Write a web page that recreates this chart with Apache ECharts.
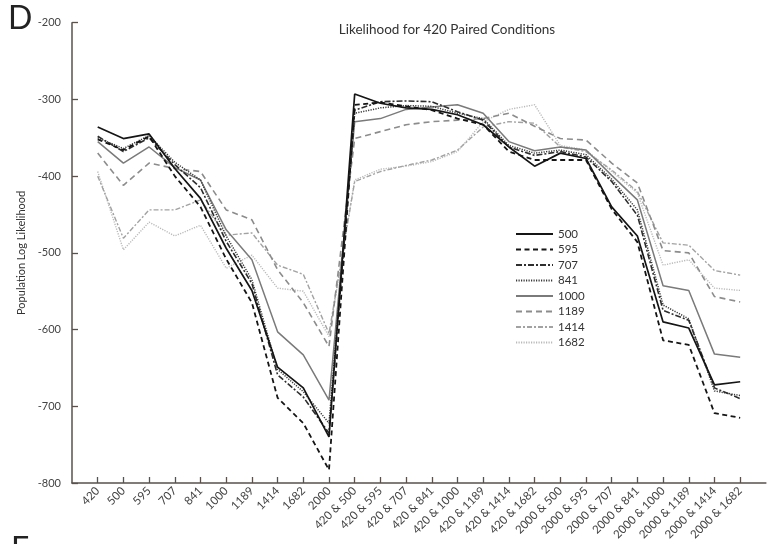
<!DOCTYPE html>
<html>
<head>
<meta charset="utf-8">
<script src="https://cdn.jsdelivr.net/npm/echarts@6/dist/echarts.min.js"></script>
<style>
html,body{margin:0;padding:0;background:#fff;}
#chart{width:768px;height:544px;}
</style>
</head>
<body>
<div id="chart"></div>
<script>
const categories = ['420','500','595','707','841','1000','1189','1414','1682','2000',
  '420 & 500','420 & 595','420 & 707','420 & 841','420 & 1000','420 & 1189','420 & 1414','420 & 1682',
  '2000 & 500','2000 & 595','2000 & 707','2000 & 841','2000 & 1000','2000 & 1189','2000 & 1414','2000 & 1682'];
const seriesNames = ['500','595','707','841','1000','1189','1414','1682'];
const s500  = [-336,-351,-345,-390,-429,-494,-549,-649,-676,-740, -293,-305,-311,-313,-320,-333,-362,-387, -370,-377,-440,-478,-590,-598,-672,-668];
const s595  = [-352,-366,-348,-400,-440,-508,-565,-689,-722,-783, -307,-304,-309,-314,-325,-333,-368,-379, -379,-379,-443,-486,-614,-620,-709,-715];
const s707  = [-348,-368,-350,-385,-415,-485,-540,-659,-688,-735, -314,-303,-302,-303,-316,-327,-362,-373, -368,-375,-407,-451,-575,-588,-676,-690];
const s841  = [-350,-364,-347,-382,-405,-478,-535,-652,-681,-722, -318,-311,-308,-309,-318,-325,-360,-370, -366,-372,-404,-444,-568,-586,-680,-686];
const s1000 = [-355,-383,-362,-389,-405,-470,-509,-603,-633,-692, -329,-325,-313,-310,-307,-318,-355,-367, -362,-366,-399,-431,-543,-549,-632,-636];
const s1189 = [-370,-412,-383,-390,-394,-444,-457,-522,-565,-622, -351,-342,-333,-329,-327,-325,-318,-335, -351,-353,-383,-409,-497,-500,-557,-564];
const s1414 = [-400,-481,-444,-444,-431,-477,-474,-516,-528,-605, -407,-394,-386,-379,-366,-336,-329,-331, -362,-368,-392,-420,-487,-490,-523,-529];
const s1682 = [-394,-496,-460,-478,-464,-520,-503,-546,-550,-609, -405,-391,-387,-381,-368,-329,-313,-307, -360,-366,-394,-422,-516,-509,-546,-549];
const yTicks = {min: -800, max: -200, interval: 100};

const values = [s500, s595, s707, s841, s1000, s1189, s1414, s1682];
const styles = [
  {color:'#151515', width:1.7, type:'solid'},
  {color:'#151515', width:1.8, type:[5,3.5]},
  {color:'#2e2e2e', width:1.6, type:[6,2,2,2]},
  {color:'#3a3a3a', width:1.5, type:[1.2,1.3]},
  {color:'#7a7a7a', width:1.5, type:'solid'},
  {color:'#8c8c8c', width:1.6, type:[6,4]},
  {color:'#a2a2a2', width:1.4, type:[5,2,2,2]},
  {color:'#bababa', width:1.4, type:[1.2,1.3]}
];
const xData = [''].concat(categories, ['']);
const chart = echarts.init(document.getElementById('chart'), null, {renderer:'canvas'});
const FONT = 'Lato';
chart.setOption({
  animation: false,
  backgroundColor: '#fff',
  textStyle: {fontFamily: FONT},
  title: {
    text: 'Likelihood for 420 Paired Conditions',
    left: 442, top: 18, textAlign: 'center',
    textStyle: {fontFamily: FONT, fontSize: 13.5, fontWeight: 'normal', color: '#333'}
  },
  graphic: [
    {type:'text', left: 8, top: 3, style:{text:'D', font:'32px Lato', fill:'#222'}},
    {type:'text', left: 11, top: 534, style:{text:'E', font:'32px Lato', fill:'#222'}}
  ],
  legend: {
    orient: 'vertical', left: 510, top: 223,
    itemWidth: 37, itemHeight: 10, itemGap: 3.5,
    itemStyle: {color: 'transparent', borderWidth: 0, opacity: 0},
    textStyle: {fontFamily: FONT, fontSize: 11.5, color: '#333', lineHeight: 10},
    data: seriesNames
  },
  grid: {left: 72, right: 1, top: 22.7, bottom: 61, containLabel: false},
  xAxis: {
    type: 'category', boundaryGap: false, data: xData,
    axisLine: {lineStyle: {color: '#5a514d', width: 1.5}},
    axisTick: {inside: true, length: 6, lineStyle: {color:'#5a514d', width: 1.3},
      interval: function(i, v){ return v !== ''; }, alignWithLabel: true},
    axisLabel: {interval: 0, rotate: 45, margin: 6, fontFamily: FONT, fontSize: 11.5, color: '#444'},
    splitLine: {show: false}
  },
  yAxis: {
    type: 'value', min: yTicks.min, max: yTicks.max, interval: yTicks.interval,
    name: 'Population Log Likelihood', nameLocation: 'middle', nameGap: 36,
    nameTextStyle: {fontFamily: FONT, fontSize: 11, color: '#333'},
    axisLine: {show: true, lineStyle: {color: '#5a514d', width: 1.5}},
    axisTick: {show: true, inside: true, length: 6, lineStyle: {color:'#5a514d', width: 1.3}},
    axisLabel: {margin: 11, fontFamily: FONT, fontSize: 11, color: '#444'},
    splitLine: {show: false}
  },
  series: seriesNames.map((n, k) => ({
    name: n, type: 'line', symbol: 'none', showSymbol: false,
    data: [null].concat(values[k], [null]),
    lineStyle: {color: styles[k].color, width: styles[k].width, type: styles[k].type},
    itemStyle: {color: styles[k].color},
    z: 10 - k
  }))
});
</script>
</body>
</html>
